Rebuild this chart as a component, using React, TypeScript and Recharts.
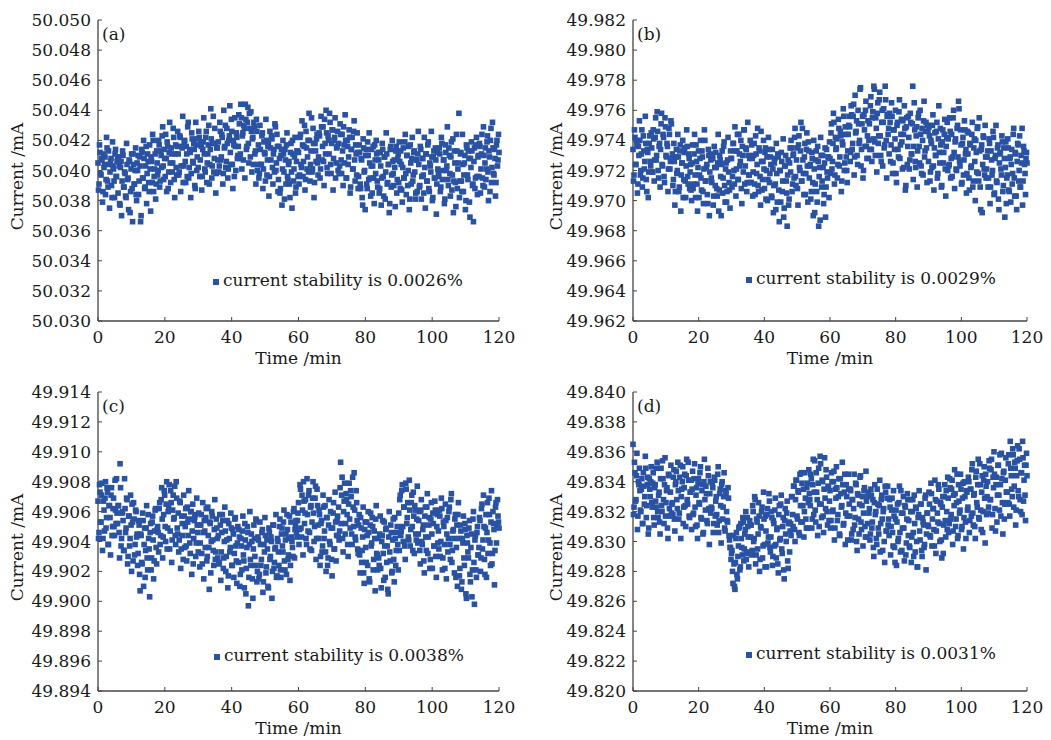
import {
  ScatterChart, Scatter, XAxis, YAxis, Legend,
} from 'recharts'

const FONT = '"DejaVu Serif", "Liberation Serif", serif'
const BLUE = '#2a52a3'
const INK = '#1a1a1a'
const AXIS = '#444'
const MARK = 5.6

// readings every 0.3 min; the *Mid arrays are the readings taken half a step later
const SAMPLE_STEP = 0.3

const timeTicks = [0, 20, 40, 60, 80, 100, 120]

const ticksA = [50.03, 50.032, 50.034, 50.036, 50.038, 50.04, 50.042, 50.044, 50.046, 50.048, 50.05]
const ticksB = [49.962, 49.964, 49.966, 49.968, 49.97, 49.972, 49.974, 49.976, 49.978, 49.98, 49.982]
const ticksC = [49.894, 49.896, 49.898, 49.9, 49.902, 49.904, 49.906, 49.908, 49.91, 49.912, 49.914]
const ticksD = [49.82, 49.822, 49.824, 49.826, 49.828, 49.83, 49.832, 49.834, 49.836, 49.838, 49.84]

const currentA = [
  50.0405, 50.0391, 50.0412, 50.0397, 50.0407, 50.0386, 50.0402, 50.0409, 50.0394, 50.0415, 50.0389, 50.0404, 50.0399, 50.0408, 50.0382, 50.0403, 50.0393, 50.0411, 50.0396, 50.0406,
  50.0385, 50.0403, 50.0377, 50.0406, 50.0393, 50.0410, 50.0389, 50.0398, 50.0382, 50.0404, 50.0395, 50.0407, 50.0372, 50.0401, 50.0388, 50.0411, 50.0391, 50.0400, 50.0384, 50.0405,
  50.0410, 50.0393, 50.0403, 50.0370, 50.0412, 50.0395, 50.0408, 50.0389, 50.0416, 50.0398, 50.0406, 50.0386, 50.0401, 50.0409, 50.0392, 50.0420, 50.0396, 50.0411, 50.0391, 50.0405,
  50.0400, 50.0417, 50.0393, 50.0410, 50.0423, 50.0403, 50.0414, 50.0396, 50.0408, 50.0419, 50.0388, 50.0412, 50.0405, 50.0415, 50.0399, 50.0428, 50.0394, 50.0411, 50.0402, 50.0416,
  50.0411, 50.0399, 50.0422, 50.0403, 50.0415, 50.0392, 50.0419, 50.0406, 50.0416, 50.0396, 50.0432, 50.0402, 50.0412, 50.0398, 50.0421, 50.0405, 50.0414, 50.0388, 50.0417, 50.0409,
  50.0402, 50.0422, 50.0407, 50.0416, 50.0396, 50.0419, 50.0411, 50.0399, 50.0426, 50.0405, 50.0417, 50.0391, 50.0414, 50.0421, 50.0403, 50.0436, 50.0408, 50.0418, 50.0398, 50.0415,
  50.0419, 50.0403, 50.0426, 50.0409, 50.0422, 50.0398, 50.0415, 50.0430, 50.0406, 50.0418, 50.0401, 50.0423, 50.0412, 50.0434, 50.0404, 50.0420, 50.0396, 50.0416, 50.0425, 50.0408,
  50.0416, 50.0431, 50.0411, 50.0435, 50.0423, 50.0407, 50.0428, 50.0444, 50.0414, 50.0432, 50.0418, 50.0438, 50.0409, 50.0426, 50.0421, 50.0404, 50.0429, 50.0413, 50.0434, 50.0400,
  50.0417, 50.0398, 50.0414, 50.0404, 50.0425, 50.0401, 50.0412, 50.0393, 50.0420, 50.0407, 50.0418, 50.0396, 50.0415, 50.0423, 50.0402, 50.0411, 50.0399, 50.0429, 50.0405, 50.0416,
  50.0394, 50.0408, 50.0388, 50.0414, 50.0401, 50.0411, 50.0381, 50.0407, 50.0417, 50.0396, 50.0404, 50.0391, 50.0412, 50.0399, 50.0420, 50.0393, 50.0409, 50.0385, 50.0406, 50.0413,
  50.0412, 50.0397, 50.0424, 50.0402, 50.0417, 50.0406, 50.0430, 50.0394, 50.0415, 50.0409, 50.0399, 50.0420, 50.0404, 50.0435, 50.0401, 50.0418, 50.0392, 50.0413, 50.0421, 50.0405,
  50.0409, 50.0423, 50.0401, 50.0429, 50.0416, 50.0406, 50.0434, 50.0411, 50.0425, 50.0398, 50.0420, 50.0438, 50.0404, 50.0418, 50.0427, 50.0408, 50.0422, 50.0395, 50.0415, 50.0426,
  50.0418, 50.0403, 50.0424, 50.0398, 50.0413, 50.0429, 50.0405, 50.0420, 50.0395, 50.0416, 50.0409, 50.0422, 50.0389, 50.0414, 50.0401, 50.0426, 50.0407, 50.0417, 50.0397, 50.0412,
  50.0396, 50.0412, 50.0388, 50.0407, 50.0377, 50.0415, 50.0400, 50.0410, 50.0391, 50.0419, 50.0394, 50.0405, 50.0383, 50.0414, 50.0403, 50.0395, 50.0417, 50.0398, 50.0411, 50.0389,
  50.0407, 50.0388, 50.0403, 50.0395, 50.0414, 50.0383, 50.0409, 50.0399, 50.0411, 50.0392, 50.0404, 50.0378, 50.0416, 50.0397, 50.0406, 50.0390, 50.0402, 50.0413, 50.0385, 50.0408,
  50.0392, 50.0406, 50.0413, 50.0387, 50.0402, 50.0395, 50.0419, 50.0398, 50.0410, 50.0390, 50.0416, 50.0381, 50.0405, 50.0408, 50.0393, 50.0412, 50.0399, 50.0385, 50.0407, 50.0411,
  50.0404, 50.0390, 50.0414, 50.0396, 50.0408, 50.0385, 50.0402, 50.0411, 50.0393, 50.0417, 50.0388, 50.0405, 50.0399, 50.0409, 50.0382, 50.0413, 50.0395, 50.0407, 50.0391, 50.0401,
  50.0396, 50.0411, 50.0389, 50.0418, 50.0400, 50.0407, 50.0381, 50.0412, 50.0403, 50.0394, 50.0415, 50.0398, 50.0409, 50.0387, 50.0421, 50.0393, 50.0405, 50.0376, 50.0413, 50.0401,
  50.0438, 50.0393, 50.0412, 50.0386, 50.0404, 50.0397, 50.0410, 50.0380, 50.0415, 50.0394, 50.0408, 50.0369, 50.0402, 50.0413, 50.0391, 50.0406, 50.0388, 50.0417, 50.0396, 50.0409,
  50.0396, 50.0416, 50.0401, 50.0424, 50.0390, 50.0410, 50.0405, 50.0394, 50.0419, 50.0399, 50.0413, 50.0386, 50.0428, 50.0402, 50.0415, 50.0397, 50.0408, 50.0392, 50.0420, 50.0407,
  50.0412,
]

const currentAMid = [
  50.0387, 50.0417, 50.0398, 50.0408, 50.0379, 50.0411, 50.0404, 50.0384, 50.0422, 50.0393, 50.0413, 50.0375, 50.0406, 50.0390, 50.0419, 50.0401, 50.0382, 50.0414, 50.0396, 50.0409,
  50.0409, 50.0378, 50.0402, 50.0370, 50.0413, 50.0389, 50.0399, 50.0383, 50.0418, 50.0394, 50.0374, 50.0406, 50.0386, 50.0411, 50.0366, 50.0404, 50.0391, 50.0415, 50.0380, 50.0400,
  50.0384, 50.0409, 50.0366, 50.0414, 50.0395, 50.0420, 50.0388, 50.0403, 50.0378, 50.0411, 50.0392, 50.0417, 50.0373, 50.0406, 50.0424, 50.0386, 50.0401, 50.0381, 50.0413, 50.0397,
  50.0420, 50.0389, 50.0413, 50.0402, 50.0429, 50.0394, 50.0408, 50.0424, 50.0386, 50.0416, 50.0399, 50.0432, 50.0392, 50.0411, 50.0405, 50.0422, 50.0382, 50.0417, 50.0397, 50.0426,
  50.0397, 50.0423, 50.0386, 50.0416, 50.0436, 50.0403, 50.0420, 50.0392, 50.0411, 50.0429, 50.0395, 50.0414, 50.0382, 50.0425, 50.0406, 50.0418, 50.0390, 50.0432, 50.0400, 50.0421,
  50.0426, 50.0396, 50.0419, 50.0387, 50.0414, 50.0435, 50.0401, 50.0422, 50.0392, 50.0411, 50.0430, 50.0404, 50.0441, 50.0395, 50.0418, 50.0399, 50.0428, 50.0385, 50.0415, 50.0407,
  50.0399, 50.0432, 50.0407, 50.0424, 50.0391, 50.0440, 50.0416, 50.0402, 50.0428, 50.0395, 50.0420, 50.0443, 50.0404, 50.0426, 50.0388, 50.0417, 50.0435, 50.0400, 50.0422, 50.0410,
  50.0437, 50.0408, 50.0444, 50.0401, 50.0425, 50.0430, 50.0395, 50.0434, 50.0416, 50.0442, 50.0405, 50.0428, 50.0439, 50.0399, 50.0422, 50.0432, 50.0411, 50.0391, 50.0426, 50.0404,
  50.0395, 50.0430, 50.0404, 50.0423, 50.0388, 50.0419, 50.0411, 50.0434, 50.0397, 50.0416, 50.0383, 50.0426, 50.0407, 50.0421, 50.0391, 50.0414, 50.0431, 50.0400, 50.0424, 50.0386,
  50.0416, 50.0385, 50.0410, 50.0377, 50.0420, 50.0399, 50.0414, 50.0391, 50.0425, 50.0394, 50.0406, 50.0382, 50.0418, 50.0375, 50.0411, 50.0401, 50.0422, 50.0389, 50.0413, 50.0396,
  50.0391, 50.0422, 50.0404, 50.0433, 50.0396, 50.0416, 50.0387, 50.0426, 50.0401, 50.0420, 50.0438, 50.0393, 50.0413, 50.0399, 50.0428, 50.0382, 50.0418, 50.0406, 50.0424, 50.0397,
  50.0425, 50.0395, 50.0436, 50.0407, 50.0429, 50.0390, 50.0418, 50.0440, 50.0402, 50.0423, 50.0411, 50.0432, 50.0398, 50.0427, 50.0387, 50.0420, 50.0435, 50.0405, 50.0416, 50.0400,
  50.0398, 50.0431, 50.0407, 50.0424, 50.0390, 50.0417, 50.0437, 50.0395, 50.0420, 50.0404, 50.0427, 50.0385, 50.0414, 50.0422, 50.0401, 50.0433, 50.0393, 50.0411, 50.0425, 50.0388,
  50.0417, 50.0391, 50.0408, 50.0382, 50.0421, 50.0399, 50.0374, 50.0414, 50.0388, 50.0410, 50.0425, 50.0395, 50.0403, 50.0385, 50.0416, 50.0378, 50.0407, 50.0420, 50.0393, 50.0412,
  50.0385, 50.0412, 50.0377, 50.0418, 50.0396, 50.0409, 50.0381, 50.0425, 50.0391, 50.0404, 50.0372, 50.0414, 50.0389, 50.0420, 50.0398, 50.0407, 50.0376, 50.0416, 50.0394, 50.0411,
  50.0419, 50.0388, 50.0404, 50.0379, 50.0415, 50.0395, 50.0424, 50.0384, 50.0410, 50.0400, 50.0374, 50.0417, 50.0391, 50.0422, 50.0397, 50.0413, 50.0381, 50.0407, 50.0386, 50.0426,
  50.0389, 50.0416, 50.0381, 50.0408, 50.0397, 50.0422, 50.0375, 50.0411, 50.0393, 50.0419, 50.0386, 50.0403, 50.0426, 50.0380, 50.0409, 50.0395, 50.0415, 50.0371, 50.0412, 50.0399,
  50.0415, 50.0386, 50.0422, 50.0394, 50.0407, 50.0378, 50.0417, 50.0400, 50.0429, 50.0390, 50.0410, 50.0383, 50.0419, 50.0397, 50.0372, 50.0413, 50.0392, 50.0424, 50.0388, 50.0405,
  50.0382, 50.0411, 50.0393, 50.0424, 50.0386, 50.0405, 50.0374, 50.0417, 50.0397, 50.0413, 50.0379, 50.0408, 50.0419, 50.0390, 50.0366, 50.0415, 50.0395, 50.0422, 50.0384, 50.0410,
  50.0418, 50.0385, 50.0411, 50.0395, 50.0429, 50.0389, 50.0415, 50.0401, 50.0423, 50.0380, 50.0409, 50.0420, 50.0392, 50.0432, 50.0398, 50.0414, 50.0383, 50.0417, 50.0403, 50.0424,
]

const currentB = [
  49.9734, 49.9717, 49.9742, 49.9724, 49.9737, 49.9711, 49.9730, 49.9740, 49.9720, 49.9747, 49.9715, 49.9733, 49.9726, 49.9738, 49.9706, 49.9732, 49.9719, 49.9743, 49.9723, 49.9735,
  49.9719, 49.9741, 49.9727, 49.9755, 49.9730, 49.9746, 49.9715, 49.9738, 49.9734, 49.9758, 49.9723, 49.9742, 49.9712, 49.9749, 49.9729, 49.9736, 49.9721, 49.9744, 49.9726, 49.9751,
  49.9731, 49.9714, 49.9726, 49.9706, 49.9734, 49.9720, 49.9729, 49.9709, 49.9737, 49.9717, 49.9725, 49.9702, 49.9732, 49.9713, 49.9723, 49.9736, 49.9711, 49.9728, 49.9719, 49.9707,
  49.9725, 49.9708, 49.9731, 49.9717, 49.9737, 49.9711, 49.9722, 49.9702, 49.9728, 49.9715, 49.9733, 49.9706, 49.9721, 49.9740, 49.9713, 49.9724, 49.9698, 49.9730, 49.9719, 49.9727,
  49.9712, 49.9728, 49.9703, 49.9722, 49.9732, 49.9708, 49.9725, 49.9693, 49.9730, 49.9716, 49.9724, 49.9705, 49.9736, 49.9710, 49.9721, 49.9699, 49.9727, 49.9719, 49.9707, 49.9733,
  49.9728, 49.9716, 49.9738, 49.9711, 49.9733, 49.9721, 49.9744, 49.9714, 49.9731, 49.9726, 49.9708, 49.9736, 49.9719, 49.9747, 49.9723, 49.9734, 49.9712, 49.9730, 49.9717, 49.9740,
  49.9712, 49.9728, 49.9719, 49.9738, 49.9704, 49.9731, 49.9724, 49.9710, 49.9735, 49.9716, 49.9746, 49.9707, 49.9726, 49.9721, 49.9732, 49.9701, 49.9729, 49.9714, 49.9734, 49.9718,
  49.9724, 49.9702, 49.9721, 49.9710, 49.9728, 49.9694, 49.9718, 49.9731, 49.9707, 49.9720, 49.9699, 49.9726, 49.9713, 49.9689, 49.9723, 49.9730, 49.9705, 49.9717, 49.9697, 49.9725,
  49.9719, 49.9735, 49.9711, 49.9731, 49.9742, 49.9716, 49.9727, 49.9708, 49.9737, 49.9722, 49.9733, 49.9713, 49.9748, 49.9718, 49.9729, 49.9704, 49.9734, 49.9723, 49.9739, 49.9715,
  49.9724, 49.9706, 49.9728, 49.9690, 49.9721, 49.9711, 49.9733, 49.9699, 49.9726, 49.9716, 49.9687, 49.9730, 49.9713, 49.9722, 49.9704, 49.9735, 49.9709, 49.9719, 49.9729, 49.9702,
  49.9728, 49.9745, 49.9721, 49.9738, 49.9752, 49.9717, 49.9734, 49.9741, 49.9724, 49.9748, 49.9729, 49.9743, 49.9713, 49.9737, 49.9756, 49.9725, 49.9744, 49.9720, 49.9733, 49.9750,
  49.9749, 49.9732, 49.9757, 49.9738, 49.9764, 49.9729, 49.9745, 49.9753, 49.9724, 49.9751, 49.9740, 49.9775, 49.9734, 49.9756, 49.9720, 49.9747, 49.9760, 49.9736, 49.9743, 49.9728,
  49.9751, 49.9763, 49.9734, 49.9755, 49.9741, 49.9774, 49.9730, 49.9748, 49.9758, 49.9738, 49.9767, 49.9743, 49.9726, 49.9760, 49.9752, 49.9735, 49.9776, 49.9740, 49.9756, 49.9744,
  49.9731, 49.9752, 49.9737, 49.9756, 49.9725, 49.9747, 49.9741, 49.9718, 49.9750, 49.9734, 49.9759, 49.9728, 49.9744, 49.9739, 49.9753, 49.9722, 49.9748, 49.9710, 49.9755, 49.9736,
  49.9742, 49.9727, 49.9752, 49.9731, 49.9776, 49.9736, 49.9747, 49.9722, 49.9749, 49.9733, 49.9758, 49.9725, 49.9744, 49.9718, 49.9740, 49.9753, 49.9729, 49.9746, 49.9735, 49.9750,
  49.9726, 49.9743, 49.9719, 49.9738, 49.9750, 49.9723, 49.9735, 49.9730, 49.9746, 49.9715, 49.9741, 49.9732, 49.9748, 49.9709, 49.9739, 49.9725, 49.9744, 49.9721, 49.9736, 49.9752,
  49.9741, 49.9724, 49.9746, 49.9728, 49.9716, 49.9755, 49.9732, 49.9739, 49.9721, 49.9748, 49.9729, 49.9761, 49.9723, 49.9737, 49.9712, 49.9742, 49.9727, 49.9747, 49.9734, 49.9718,
  49.9731, 49.9715, 49.9738, 49.9722, 49.9744, 49.9709, 49.9735, 49.9726, 49.9740, 49.9719, 49.9749, 49.9713, 49.9733, 49.9694, 49.9737, 49.9724, 49.9742, 49.9717, 49.9729, 49.9721,
  49.9733, 49.9715, 49.9738, 49.9709, 49.9727, 49.9720, 49.9742, 49.9705, 49.9730, 49.9713, 49.9735, 49.9701, 49.9725, 49.9732, 49.9717, 49.9739, 49.9710, 49.9728, 49.9722, 49.9698,
  49.9717, 49.9735, 49.9706, 49.9729, 49.9724, 49.9711, 49.9744, 49.9715, 49.9732, 49.9703, 49.9726, 49.9737, 49.9720, 49.9709, 49.9730, 49.9748, 49.9713, 49.9733, 49.9718, 49.9728,
  49.9725,
]

const currentBMid = [
  49.9713, 49.9747, 49.9724, 49.9740, 49.9705, 49.9736, 49.9753, 49.9717, 49.9731, 49.9709, 49.9743, 49.9721, 49.9756, 49.9714, 49.9734, 49.9702, 49.9738, 49.9726, 49.9745, 49.9719,
  49.9747, 49.9713, 49.9742, 49.9727, 49.9759, 49.9720, 49.9736, 49.9709, 49.9751, 49.9724, 49.9744, 49.9716, 49.9755, 49.9730, 49.9738, 49.9706, 49.9748, 49.9721, 49.9753, 49.9728,
  49.9710, 49.9738, 49.9697, 49.9729, 49.9718, 49.9744, 49.9706, 49.9733, 49.9693, 49.9725, 49.9740, 49.9714, 49.9735, 49.9702, 49.9747, 49.9716, 49.9731, 49.9708, 49.9724, 49.9700,
  49.9737, 49.9711, 49.9744, 49.9702, 49.9726, 49.9693, 49.9733, 49.9717, 49.9740, 49.9707, 49.9729, 49.9698, 49.9747, 49.9713, 49.9722, 49.9704, 49.9734, 49.9690, 49.9731, 49.9715,
  49.9730, 49.9697, 49.9736, 49.9710, 49.9722, 49.9703, 49.9744, 49.9707, 49.9727, 49.9690, 49.9733, 49.9715, 49.9739, 49.9699, 49.9725, 49.9706, 49.9742, 49.9712, 49.9695, 49.9728,
  49.9709, 49.9738, 49.9720, 49.9749, 49.9703, 49.9733, 49.9714, 49.9744, 49.9723, 49.9740, 49.9698, 49.9730, 49.9747, 49.9711, 49.9735, 49.9706, 49.9752, 49.9717, 49.9728, 49.9712,
  49.9737, 49.9703, 49.9730, 49.9711, 49.9743, 49.9718, 49.9748, 49.9706, 49.9733, 49.9697, 49.9726, 49.9714, 49.9740, 49.9708, 49.9735, 49.9720, 49.9700, 49.9742, 49.9712, 49.9729,
  49.9703, 49.9734, 49.9692, 49.9725, 49.9711, 49.9738, 49.9699, 49.9729, 49.9686, 49.9720, 49.9732, 49.9706, 49.9741, 49.9695, 49.9723, 49.9713, 49.9683, 49.9727, 49.9701, 49.9735,
  49.9740, 49.9706, 49.9730, 49.9715, 49.9748, 49.9710, 49.9735, 49.9697, 49.9743, 49.9720, 49.9752, 49.9713, 49.9727, 49.9704, 49.9738, 49.9718, 49.9745, 49.9699, 49.9733, 49.9723,
  49.9701, 49.9732, 49.9712, 49.9740, 49.9692, 49.9727, 49.9706, 49.9736, 49.9683, 49.9722, 49.9742, 49.9709, 49.9730, 49.9698, 49.9725, 49.9689, 49.9734, 49.9715, 49.9729, 49.9739,
  49.9718, 49.9751, 49.9726, 49.9758, 49.9711, 49.9742, 49.9735, 49.9715, 49.9754, 49.9723, 49.9746, 49.9706, 49.9739, 49.9761, 49.9720, 49.9749, 49.9729, 49.9712, 49.9744, 49.9756,
  49.9726, 49.9763, 49.9734, 49.9756, 49.9717, 49.9770, 49.9746, 49.9730, 49.9760, 49.9738, 49.9774, 49.9723, 49.9751, 49.9715, 49.9757, 49.9736, 49.9766, 49.9728, 49.9753, 49.9740,
  49.9734, 49.9769, 49.9726, 49.9759, 49.9776, 49.9739, 49.9755, 49.9719, 49.9765, 49.9743, 49.9772, 49.9730, 49.9752, 49.9723, 49.9761, 49.9737, 49.9767, 49.9715, 49.9757, 49.9748,
  49.9758, 49.9726, 49.9765, 49.9718, 49.9747, 49.9734, 49.9760, 49.9712, 49.9752, 49.9729, 49.9767, 49.9737, 49.9754, 49.9721, 49.9744, 49.9763, 49.9707, 49.9749, 49.9724, 49.9756,
  49.9721, 49.9758, 49.9731, 49.9751, 49.9714, 49.9765, 49.9726, 49.9743, 49.9709, 49.9755, 49.9736, 49.9760, 49.9723, 49.9748, 49.9717, 49.9766, 49.9733, 49.9752, 49.9712, 49.9746,
  49.9749, 49.9713, 49.9740, 49.9722, 49.9757, 49.9707, 49.9745, 49.9730, 49.9752, 49.9718, 49.9763, 49.9725, 49.9737, 49.9710, 49.9747, 49.9732, 49.9754, 49.9703, 49.9742, 49.9720,
  49.9723, 49.9755, 49.9715, 49.9744, 49.9729, 49.9760, 49.9708, 49.9741, 49.9720, 49.9750, 49.9766, 49.9726, 49.9747, 49.9711, 49.9738, 49.9717, 49.9753, 49.9731, 49.9705, 49.9746,
  49.9745, 49.9707, 49.9737, 49.9723, 49.9752, 49.9713, 49.9741, 49.9700, 49.9732, 49.9748, 49.9718, 49.9755, 49.9709, 49.9734, 49.9692, 49.9743, 49.9721, 49.9750, 49.9715, 49.9729,
  49.9709, 49.9741, 49.9698, 49.9733, 49.9717, 49.9746, 49.9704, 49.9728, 49.9750, 49.9712, 49.9737, 49.9694, 49.9731, 49.9721, 49.9743, 49.9706, 49.9735, 49.9689, 49.9739, 49.9715,
  49.9741, 49.9707, 49.9728, 49.9699, 49.9734, 49.9718, 49.9748, 49.9703, 49.9731, 49.9694, 49.9738, 49.9713, 49.9743, 49.9709, 49.9725, 49.9697, 49.9736, 49.9724, 49.9704, 49.9732,
]

const currentC = [
  49.9067, 49.9046, 49.9073, 49.9053, 49.9079, 49.9042, 49.9061, 49.9069, 49.9049, 49.9076, 49.9038, 49.9064, 49.9056, 49.9071, 49.9044, 49.9062, 49.9050, 49.9081, 49.9052, 49.9059,
  49.9064, 49.9046, 49.9092, 49.9037, 49.9059, 49.9054, 49.9034, 49.9062, 49.9049, 49.9068, 49.9030, 49.9057, 49.9042, 49.9051, 49.9065, 49.9027, 49.9055, 49.9038, 49.9060, 49.9045,
  49.9032, 49.9051, 49.9007, 49.9044, 49.9025, 49.9054, 49.9038, 49.9016, 49.9049, 49.9029, 49.9058, 49.9035, 49.9046, 49.9021, 49.9053, 49.9041, 49.9027, 49.9061, 49.9036, 49.9048,
  49.9046, 49.9062, 49.9038, 49.9068, 49.9055, 49.9043, 49.9074, 49.9050, 49.9065, 49.9035, 49.9060, 49.9078, 49.9047, 49.9066, 49.9041, 49.9071, 49.9056, 49.9044, 49.9080, 49.9049,
  49.9059, 49.9041, 49.9066, 49.9035, 49.9052, 49.9028, 49.9057, 49.9050, 49.9037, 49.9063, 49.9044, 49.9055, 49.9032, 49.9060, 49.9047, 49.9025, 49.9054, 49.9058, 49.9039, 49.9051,
  49.9033, 49.9051, 49.9039, 49.9058, 49.9025, 49.9046, 49.9054, 49.9036, 49.9062, 49.9030, 49.9044, 49.9008, 49.9052, 49.9040, 49.9057, 49.9034, 49.9048, 49.9028, 49.9055, 49.9042,
  49.9044, 49.9026, 49.9051, 49.9033, 49.9058, 49.9022, 49.9040, 49.9047, 49.9030, 49.9054, 49.9017, 49.9042, 49.9036, 49.9049, 49.9024, 49.9045, 49.9032, 49.9056, 49.9027, 49.9039,
  49.9026, 49.9043, 49.9018, 49.9037, 49.9047, 49.9031, 49.9009, 49.9041, 49.9022, 49.9050, 49.8997, 49.9038, 49.9028, 49.9045, 49.9015, 49.9035, 49.9042, 49.9024, 49.9054, 49.9020,
  49.9041, 49.9018, 49.9038, 49.9028, 49.9048, 49.9013, 49.9033, 49.9044, 49.9023, 49.9035, 49.9009, 49.9046, 49.9030, 49.9040, 49.9020, 49.9051, 49.9026, 49.9036, 49.9016, 49.9042,
  49.9033, 49.9050, 49.9021, 49.9045, 49.9037, 49.9053, 49.9027, 49.9041, 49.9018, 49.9048, 49.9031, 49.9057, 49.9024, 49.9043, 49.9036, 49.9060, 49.9029, 49.9051, 49.9046, 49.9054,
  49.9066, 49.9048, 49.9075, 49.9043, 49.9061, 49.9080, 49.9052, 49.9068, 49.9038, 49.9058, 49.9071, 49.9046, 49.9063, 49.9034, 49.9069, 49.9059, 49.9050, 49.9077, 49.9042, 49.9064,
  49.9042, 49.9058, 49.9030, 49.9054, 49.9037, 49.9063, 49.9047, 49.9033, 49.9056, 49.9024, 49.9051, 49.9040, 49.9060, 49.9028, 49.9049, 49.9066, 49.9035, 49.9053, 49.9044, 49.9057,
  49.9063, 49.9047, 49.9093, 49.9071, 49.9042, 49.9060, 49.9079, 49.9052, 49.9068, 49.9038, 49.9065, 49.9055, 49.9074, 49.9045, 49.9083, 49.9050, 49.9061, 49.9041, 49.9066, 49.9035,
  49.9051, 49.9031, 49.9056, 49.9026, 49.9043, 49.9019, 49.9048, 49.9036, 49.9053, 49.9024, 49.9046, 49.9013, 49.9059, 49.9039, 49.9050, 49.9028, 49.9042, 49.9055, 49.9032, 49.9021,
  49.9029, 49.9045, 49.9022, 49.9040, 49.9054, 49.9014, 49.9037, 49.9048, 49.9026, 49.9008, 49.9043, 49.9033, 49.9051, 49.9019, 49.9041, 49.9028, 49.9056, 49.9024, 49.9046, 49.9038,
  49.9059, 49.9068, 49.9044, 49.9074, 49.9050, 49.9063, 49.9037, 49.9079, 49.9052, 49.9066, 49.9041, 49.9061, 49.9048, 49.9071, 49.9034, 49.9057, 49.9064, 49.9045, 49.9055, 49.9039,
  49.9054, 49.9034, 49.9061, 49.9040, 49.9048, 49.9027, 49.9057, 49.9043, 49.9063, 49.9032, 49.9051, 49.9022, 49.9055, 49.9045, 49.9059, 49.9037, 49.9067, 49.9030, 49.9050, 49.9039,
  49.9035, 49.9057, 49.9040, 49.9062, 49.9029, 49.9050, 49.9022, 49.9054, 49.9045, 49.9033, 49.9060, 49.9038, 49.9068, 49.9026, 49.9047, 49.9042, 49.9055, 49.9016, 49.9051, 49.9058,
  49.9042, 49.9022, 49.9047, 49.9013, 49.9039, 49.9029, 49.9052, 49.9005, 49.9044, 49.9033, 49.9049, 49.9018, 49.9036, 49.9003, 49.9055, 49.9026, 49.9041, 49.9021, 49.9046, 49.9031,
  49.9036, 49.9054, 49.9029, 49.9065, 49.9041, 49.9050, 49.9018, 49.9058, 49.9046, 49.9032, 49.9069, 49.9039, 49.9053, 49.9025, 49.9060, 49.9048, 49.9034, 49.9066, 49.9051, 49.9057,
  49.9049,
]

const currentCMid = [
  49.9042, 49.9078, 49.9053, 49.9071, 49.9034, 49.9067, 49.9047, 49.9080, 49.9056, 49.9073, 49.9038, 49.9064, 49.9031, 49.9076, 49.9050, 49.9069, 49.9044, 49.9061, 49.9082, 49.9052,
  49.9064, 49.9029, 49.9076, 49.9042, 49.9060, 49.9034, 49.9082, 49.9046, 49.9069, 49.9025, 49.9057, 49.9037, 49.9071, 49.9020, 49.9053, 49.9066, 49.9031, 49.9061, 49.9043, 49.9024,
  49.9054, 49.9018, 49.9045, 49.9026, 49.9059, 49.9010, 49.9049, 49.9034, 49.9064, 49.9021, 49.9042, 49.9003, 49.9052, 49.9029, 49.9057, 49.9015, 49.9047, 49.9062, 49.9025, 49.9050,
  49.9033, 49.9066, 49.9044, 49.9076, 49.9029, 49.9058, 49.9071, 49.9040, 49.9080, 49.9049, 49.9063, 49.9035, 49.9074, 49.9026, 49.9061, 49.9055, 49.9077, 49.9038, 49.9069, 49.9045,
  49.9033, 49.9067, 49.9022, 49.9057, 49.9044, 49.9071, 49.9036, 49.9062, 49.9027, 49.9053, 49.9074, 49.9039, 49.9060, 49.9018, 49.9065, 49.9042, 49.9056, 49.9030, 49.9069, 49.9046,
  49.9059, 49.9023, 49.9051, 49.9032, 49.9066, 49.9015, 49.9047, 49.9056, 49.9027, 49.9063, 49.9036, 49.9053, 49.9019, 49.9060, 49.9041, 49.9024, 49.9068, 49.9033, 49.9049, 49.9029,
  49.9025, 49.9058, 49.9014, 49.9046, 49.9054, 49.9029, 49.9063, 49.9020, 49.9041, 49.9009, 49.9052, 49.9033, 49.9059, 49.9024, 49.9048, 49.9016, 49.9055, 49.9037, 49.9012, 49.9050,
  49.9048, 49.9010, 49.9042, 49.9021, 49.9057, 49.9027, 49.9052, 49.9005, 49.9036, 49.9046, 49.9016, 49.9060, 49.9024, 49.9040, 49.9002, 49.9051, 49.9030, 49.9055, 49.9013, 49.9043,
  49.9015, 49.9053, 49.9024, 49.9046, 49.9006, 49.9038, 49.9056, 49.9019, 49.9041, 49.9010, 49.9049, 49.9028, 49.9043, 49.9002, 49.9051, 49.9022, 49.9035, 49.9058, 49.9017, 49.9040,
  49.9024, 49.9055, 49.9016, 49.9049, 49.9033, 49.9061, 49.9021, 49.9045, 49.9058, 49.9028, 49.9042, 49.9014, 49.9053, 49.9040, 49.9030, 49.9062, 49.9048, 49.9054, 49.9043, 49.9059,
  49.9038, 49.9078, 49.9049, 49.9071, 49.9031, 49.9067, 49.9059, 49.9042, 49.9082, 49.9047, 49.9074, 49.9035, 49.9064, 49.9053, 49.9080, 49.9040, 49.9069, 49.9028, 49.9075, 49.9051,
  49.9061, 49.9024, 49.9052, 49.9033, 49.9071, 49.9042, 49.9064, 49.9020, 49.9056, 49.9029, 49.9068, 49.9038, 49.9049, 49.9017, 49.9059, 49.9035, 49.9073, 49.9027, 49.9054, 49.9044,
  49.9041, 49.9076, 49.9052, 49.9083, 49.9033, 49.9067, 49.9045, 49.9072, 49.9058, 49.9030, 49.9079, 49.9049, 49.9070, 49.9038, 49.9063, 49.9086, 49.9043, 49.9074, 49.9054, 49.9032,
  49.9058, 49.9019, 49.9049, 49.9034, 49.9063, 49.9012, 49.9053, 49.9026, 49.9044, 49.9060, 49.9015, 49.9051, 49.9037, 49.9056, 49.9021, 49.9047, 49.9007, 49.9064, 49.9031, 49.9042,
  49.9024, 49.9057, 49.9009, 49.9044, 49.9032, 49.9053, 49.9016, 49.9049, 49.9037, 49.9005, 49.9060, 49.9027, 49.9046, 49.9020, 49.9055, 49.9013, 49.9042, 49.9034, 49.9050, 49.9021,
  49.9034, 49.9071, 49.9047, 49.9078, 49.9040, 49.9063, 49.9028, 49.9075, 49.9056, 49.9043, 49.9081, 49.9037, 49.9066, 49.9050, 49.9073, 49.9032, 49.9061, 49.9041, 49.9077, 49.9045,
  49.9060, 49.9025, 49.9068, 49.9038, 49.9051, 49.9019, 49.9063, 49.9034, 49.9072, 49.9043, 49.9056, 49.9028, 49.9066, 49.9022, 49.9052, 49.9037, 49.9061, 49.9016, 49.9058, 49.9047,
  49.9061, 49.9030, 49.9069, 49.9021, 49.9053, 49.9038, 49.9065, 49.9015, 49.9056, 49.9042, 49.9063, 49.9028, 49.9072, 49.9034, 49.9048, 49.9019, 49.9058, 49.9036, 49.9010, 49.9066,
  49.9017, 49.9051, 49.9008, 49.9042, 49.9057, 49.9024, 49.9048, 49.9002, 49.9039, 49.9029, 49.9054, 49.9013, 49.9045, 49.9021, 49.9060, 49.8998, 49.9044, 49.9016, 49.9050, 49.9031,
  49.9056, 49.9020, 49.9062, 49.9035, 49.9071, 49.9028, 49.9049, 49.9016, 49.9066, 49.9041, 49.9058, 49.9024, 49.9074, 49.9032, 49.9052, 49.9011, 49.9063, 49.9039, 49.9068, 49.9053,
]

const currentD = [
  49.8365, 49.8323, 49.8346, 49.8328, 49.8359, 49.8317, 49.8338, 49.8334, 49.8320, 49.8342, 49.8312, 49.8337, 49.8330, 49.8349, 49.8324, 49.8343, 49.8309, 49.8335, 49.8340, 49.8326,
  49.8339, 49.8316, 49.8336, 49.8327, 49.8349, 49.8320, 49.8331, 49.8313, 49.8342, 49.8324, 49.8354, 49.8328, 49.8338, 49.8317, 49.8334, 49.8309, 49.8345, 49.8322, 49.8333, 49.8319,
  49.8326, 49.8343, 49.8315, 49.8338, 49.8347, 49.8322, 49.8334, 49.8319, 49.8351, 49.8330, 49.8340, 49.8312, 49.8336, 49.8324, 49.8344, 49.8328, 49.8353, 49.8317, 49.8333, 49.8341,
  49.8335, 49.8318, 49.8342, 49.8323, 49.8331, 49.8311, 49.8339, 49.8326, 49.8346, 49.8316, 49.8334, 49.8305, 49.8340, 49.8328, 49.8337, 49.8314, 49.8349, 49.8322, 49.8332, 49.8319,
  49.8322, 49.8336, 49.8312, 49.8341, 49.8327, 49.8318, 49.8345, 49.8306, 49.8332, 49.8324, 49.8338, 49.8315, 49.8330, 49.8309, 49.8334, 49.8320, 49.8313, 49.8329, 49.8301, 49.8296,
  49.8292, 49.8280, 49.8304, 49.8270, 49.8286, 49.8306, 49.8275, 49.8297, 49.8310, 49.8283, 49.8302, 49.8291, 49.8313, 49.8295, 49.8308, 49.8288, 49.8316, 49.8303, 49.8293, 49.8311,
  49.8311, 49.8294, 49.8320, 49.8302, 49.8328, 49.8291, 49.8313, 49.8305, 49.8317, 49.8288, 49.8309, 49.8323, 49.8297, 49.8315, 49.8283, 49.8307, 49.8318, 49.8299, 49.8332, 49.8296,
  49.8303, 49.8316, 49.8290, 49.8312, 49.8321, 49.8298, 49.8308, 49.8285, 49.8318, 49.8301, 49.8325, 49.8295, 49.8310, 49.8281, 49.8314, 49.8305, 49.8319, 49.8287, 49.8312, 49.8293,
  49.8312, 49.8330, 49.8318, 49.8337, 49.8308, 49.8328, 49.8341, 49.8315, 49.8333, 49.8304, 49.8324, 49.8346, 49.8313, 49.8335, 49.8320, 49.8329, 49.8309, 49.8339, 49.8326, 49.8332,
  49.8324, 49.8342, 49.8315, 49.8355, 49.8333, 49.8321, 49.8346, 49.8328, 49.8339, 49.8310, 49.8357, 49.8325, 49.8341, 49.8317, 49.8335, 49.8329, 49.8348, 49.8320, 49.8337, 49.8314,
  49.8334, 49.8314, 49.8340, 49.8321, 49.8347, 49.8309, 49.8329, 49.8336, 49.8318, 49.8342, 49.8304, 49.8332, 49.8324, 49.8338, 49.8312, 49.8345, 49.8319, 49.8330, 49.8301, 49.8335,
  49.8317, 49.8334, 49.8305, 49.8328, 49.8322, 49.8311, 49.8339, 49.8300, 49.8332, 49.8315, 49.8325, 49.8344, 49.8308, 49.8330, 49.8319, 49.8336, 49.8303, 49.8327, 49.8312, 49.8333,
  49.8322, 49.8305, 49.8331, 49.8313, 49.8296, 49.8326, 49.8318, 49.8302, 49.8335, 49.8309, 49.8324, 49.8293, 49.8328, 49.8315, 49.8320, 49.8300, 49.8337, 49.8307, 49.8329, 49.8311,
  49.8304, 49.8323, 49.8310, 49.8329, 49.8297, 49.8317, 49.8286, 49.8321, 49.8313, 49.8300, 49.8326, 49.8306, 49.8334, 49.8294, 49.8319, 49.8309, 49.8324, 49.8291, 49.8315, 49.8328,
  49.8314, 49.8296, 49.8320, 49.8303, 49.8328, 49.8290, 49.8312, 49.8323, 49.8300, 49.8283, 49.8318, 49.8307, 49.8325, 49.8294, 49.8316, 49.8311, 49.8298, 49.8331, 49.8305, 49.8319,
  49.8310, 49.8325, 49.8303, 49.8332, 49.8315, 49.8322, 49.8297, 49.8328, 49.8307, 49.8319, 49.8338, 49.8312, 49.8326, 49.8301, 49.8323, 49.8292, 49.8330, 49.8314, 49.8334, 49.8308,
  49.8329, 49.8312, 49.8336, 49.8318, 49.8341, 49.8307, 49.8324, 49.8332, 49.8315, 49.8345, 49.8304, 49.8327, 49.8321, 49.8335, 49.8310, 49.8339, 49.8316, 49.8330, 49.8302, 49.8333,
  49.8323, 49.8340, 49.8314, 49.8335, 49.8348, 49.8319, 49.8331, 49.8310, 49.8343, 49.8326, 49.8338, 49.8316, 49.8352, 49.8321, 49.8333, 49.8306, 49.8341, 49.8329, 49.8345, 49.8318,
  49.8340, 49.8323, 49.8349, 49.8328, 49.8355, 49.8318, 49.8336, 49.8345, 49.8307, 49.8343, 49.8331, 49.8351, 49.8321, 49.8338, 49.8359, 49.8326, 49.8346, 49.8315, 49.8341, 49.8333,
  49.8333, 49.8352, 49.8325, 49.8367, 49.8344, 49.8330, 49.8358, 49.8337, 49.8349, 49.8321, 49.8354, 49.8334, 49.8362, 49.8328, 49.8346, 49.8318, 49.8356, 49.8341, 49.8331, 49.8351,
  49.8344,
]

const currentDMid = [
  49.8318, 49.8353, 49.8327, 49.8344, 49.8308, 49.8340, 49.8349, 49.8321, 49.8335, 49.8312, 49.8346, 49.8325, 49.8357, 49.8316, 49.8338, 49.8305, 49.8342, 49.8330, 49.8350, 49.8323,
  49.8346, 49.8311, 49.8338, 49.8323, 49.8353, 49.8316, 49.8333, 49.8305, 49.8349, 49.8320, 49.8342, 49.8312, 49.8356, 49.8326, 49.8336, 49.8302, 49.8344, 49.8317, 49.8351, 49.8325,
  49.8318, 49.8348, 49.8307, 49.8340, 49.8328, 49.8353, 49.8315, 49.8343, 49.8302, 49.8335, 49.8350, 49.8323, 49.8345, 49.8310, 49.8355, 49.8325, 49.8341, 49.8316, 49.8333, 49.8308,
  49.8347, 49.8319, 49.8352, 49.8310, 49.8336, 49.8302, 49.8342, 49.8325, 49.8350, 49.8315, 49.8338, 49.8306, 49.8355, 49.8321, 49.8332, 49.8312, 49.8344, 49.8298, 49.8340, 49.8323,
  49.8339, 49.8306, 49.8343, 49.8317, 49.8330, 49.8311, 49.8350, 49.8314, 49.8335, 49.8299, 49.8340, 49.8323, 49.8346, 49.8307, 49.8332, 49.8314, 49.8336, 49.8304, 49.8296, 49.8288,
  49.8294, 49.8272, 49.8285, 49.8268, 49.8302, 49.8278, 49.8290, 49.8309, 49.8281, 49.8312, 49.8296, 49.8316, 49.8287, 49.8305, 49.8320, 49.8292, 49.8310, 49.8283, 49.8314, 49.8303,
  49.8291, 49.8324, 49.8300, 49.8330, 49.8285, 49.8315, 49.8295, 49.8326, 49.8280, 49.8310, 49.8320, 49.8289, 49.8333, 49.8298, 49.8317, 49.8283, 49.8322, 49.8303, 49.8327, 49.8293,
  49.8320, 49.8284, 49.8314, 49.8297, 49.8329, 49.8289, 49.8309, 49.8279, 49.8324, 49.8302, 49.8331, 49.8292, 49.8316, 49.8275, 49.8322, 49.8300, 49.8327, 49.8282, 49.8313, 49.8307,
  49.8304, 49.8330, 49.8310, 49.8337, 49.8300, 49.8341, 49.8317, 49.8334, 49.8306, 49.8345, 49.8313, 49.8339, 49.8324, 49.8303, 49.8346, 49.8315, 49.8336, 49.8309, 49.8348, 49.8328,
  49.8345, 49.8309, 49.8338, 49.8318, 49.8354, 49.8313, 49.8333, 49.8304, 49.8349, 49.8325, 49.8352, 49.8316, 49.8340, 49.8306, 49.8356, 49.8322, 49.8343, 49.8311, 49.8336, 49.8327,
  49.8309, 49.8346, 49.8320, 49.8340, 49.8301, 49.8335, 49.8350, 49.8314, 49.8330, 49.8305, 49.8342, 49.8323, 49.8353, 49.8311, 49.8333, 49.8298, 49.8338, 49.8317, 49.8345, 49.8325,
  49.8335, 49.8301, 49.8328, 49.8308, 49.8345, 49.8316, 49.8338, 49.8294, 49.8331, 49.8305, 49.8343, 49.8313, 49.8324, 49.8297, 49.8334, 49.8310, 49.8347, 49.8303, 49.8330, 49.8319,
  49.8301, 49.8335, 49.8309, 49.8328, 49.8290, 49.8338, 49.8320, 49.8298, 49.8325, 49.8305, 49.8341, 49.8312, 49.8331, 49.8294, 49.8322, 49.8286, 49.8333, 49.8307, 49.8337, 49.8315,
  49.8328, 49.8291, 49.8321, 49.8306, 49.8334, 49.8296, 49.8315, 49.8284, 49.8325, 49.8302, 49.8337, 49.8293, 49.8319, 49.8309, 49.8330, 49.8287, 49.8323, 49.8299, 49.8332, 49.8304,
  49.8297, 49.8328, 49.8286, 49.8320, 49.8306, 49.8331, 49.8293, 49.8322, 49.8283, 49.8316, 49.8334, 49.8301, 49.8325, 49.8290, 49.8313, 49.8296, 49.8329, 49.8281, 49.8319, 49.8311,
  49.8333, 49.8304, 49.8339, 49.8297, 49.8322, 49.8308, 49.8341, 49.8292, 49.8327, 49.8313, 49.8335, 49.8300, 49.8325, 49.8289, 49.8330, 49.8311, 49.8338, 49.8303, 49.8320, 49.8343,
  49.8306, 49.8342, 49.8315, 49.8335, 49.8298, 49.8331, 49.8348, 49.8310, 49.8326, 49.8302, 49.8338, 49.8319, 49.8345, 49.8308, 49.8329, 49.8295, 49.8340, 49.8313, 49.8334, 49.8321,
  49.8343, 49.8306, 49.8335, 49.8317, 49.8352, 49.8311, 49.8332, 49.8302, 49.8347, 49.8323, 49.8355, 49.8315, 49.8338, 49.8308, 49.8344, 49.8320, 49.8350, 49.8299, 49.8337, 49.8330,
  49.8319, 49.8354, 49.8328, 49.8348, 49.8309, 49.8343, 49.8360, 49.8322, 49.8338, 49.8313, 49.8351, 49.8331, 49.8358, 49.8317, 49.8342, 49.8305, 49.8347, 49.8325, 49.8356, 49.8333,
  49.8326, 49.8358, 49.8317, 49.8349, 49.8335, 49.8362, 49.8323, 49.8353, 49.8311, 49.8344, 49.8364, 49.8330, 49.8355, 49.8320, 49.8346, 49.8367, 49.8327, 49.8351, 49.8314, 49.8359,
]

const toPoints = (values: number[], start: number) =>
  values.map((v, i) => ({ t: Math.round((start + i * SAMPLE_STEP) * 100) / 100, v }))

const tickFont = { fill: INK, fontSize: 17, fontFamily: FONT }
const frameLine = { stroke: AXIS, strokeWidth: 1.3 }

// small filled square centred on the point the scatter computes
const SquareDot = (props: any) => (
  <rect x={props.cx - MARK / 2} y={props.cy - MARK / 2} width={MARK} height={MARK} fill={BLUE} />
)

const yTitle = (offsetX: number) => (props: any) => {
  const { x, y, height } = props.viewBox
  const cx = x + offsetX
  const cy = y + height / 2 + 6
  return (
    <text
      x={cx} y={cy} transform={`rotate(-90, ${cx}, ${cy})`}
      textAnchor="middle" dominantBaseline="central"
      fill={INK} fontSize={17} fontFamily={FONT}
    >
      Current /mA
    </text>
  )
}

interface PanelProps {
  left: number
  top: number
  width: number
  yAxisWidth: number
  marginTop: number
  marginRight: number
  values: number[]
  valuesMid: number[]
  yTicks: number[]
  tag: string
  stability: string
  legendLeft: number
  legendTop: number
  yLabelOffset: number
}

function Panel(p: PanelProps) {
  const domain = [p.yTicks[0], p.yTicks[p.yTicks.length - 1]]
  const points = [...toPoints(p.values, 0), ...toPoints(p.valuesMid, SAMPLE_STEP / 2)]
  return (
    <div style={{ position: 'absolute', left: p.left, top: p.top, width: p.width, height: 370 }}>
      <ScatterChart
        width={p.width}
        height={370}
        margin={{ top: p.marginTop, right: p.marginRight, bottom: 4, left: 0 }}
      >
        <XAxis
          type="number"
          dataKey="t"
          domain={[0, 120]}
          ticks={timeTicks}
          height={45}
          tickSize={-4}
          tickMargin={14}
          tick={tickFont}
          axisLine={frameLine}
          tickLine={{ stroke: AXIS }}
          label={{ value: 'Time /min', position: 'insideBottom', offset: 2, fill: INK, fontSize: 17, fontFamily: FONT }}
        />
        <XAxis xAxisId="top" orientation="top" type="number" domain={[0, 120]} height={0} tick={false} tickLine={false} axisLine={frameLine} />
        <YAxis
          type="number"
          dataKey="v"
          domain={domain}
          ticks={p.yTicks}
          allowDataOverflow
          width={p.yAxisWidth}
          tickSize={-4}
          tickMargin={11}
          tick={tickFont}
          tickFormatter={(v: number) => v.toFixed(3)}
          axisLine={frameLine}
          tickLine={{ stroke: AXIS }}
          label={yTitle(p.yLabelOffset)}
        />
        <YAxis yAxisId="right" orientation="right" type="number" domain={domain} width={0} tick={false} tickLine={false} axisLine={frameLine} />
        <Scatter
          name={`current stability is ${p.stability}`}
          data={points}
          fill={BLUE}
          shape={SquareDot}
          legendType="square"
          isAnimationActive={false}
        />
        <Legend
          layout="vertical"
          align="center"
          verticalAlign="middle"
          iconType="square"
          iconSize={6}
          wrapperStyle={{ left: p.legendLeft, top: p.legendTop, width: 'auto', fontFamily: FONT, fontSize: 17, lineHeight: '20px' }}
          formatter={(value: string) => <span style={{ color: INK }}>{value}</span>}
        />
      </ScatterChart>
      <div
        style={{
          position: 'absolute', left: p.yAxisWidth + 4, top: p.marginTop + 6,
          fontFamily: FONT, fontSize: 17, lineHeight: '17px', color: INK,
        }}
      >
        {p.tag}
      </div>
    </div>
  )
}

export default function App() {
  return (
    <div style={{ position: 'absolute', left: 0, top: 0, width: 1051, height: 740, background: '#fff', fontFamily: FONT }}>
      <Panel left={0} top={0} width={520} yAxisWidth={98} marginTop={20} marginRight={21}
        values={currentA} valuesMid={currentAMid} yTicks={ticksA} tag="(a)" stability="0.0026%"
        legendLeft={213} legendTop={270} yLabelOffset={17} />
      <Panel left={520} top={0} width={531} yAxisWidth={113} marginTop={20} marginRight={24}
        values={currentB} valuesMid={currentBMid} yTicks={ticksB} tag="(b)" stability="0.0029%"
        legendLeft={226} legendTop={268} yLabelOffset={36} />
      <Panel left={0} top={370} width={520} yAxisWidth={98} marginTop={22} marginRight={21}
        values={currentC} valuesMid={currentCMid} yTicks={ticksC} tag="(c)" stability="0.0038%"
        legendLeft={214} legendTop={275} yLabelOffset={17} />
      <Panel left={520} top={370} width={531} yAxisWidth={113} marginTop={22} marginRight={24}
        values={currentD} valuesMid={currentDMid} yTicks={ticksD} tag="(d)" stability="0.0031%"
        legendLeft={226} legendTop={273} yLabelOffset={36} />
    </div>
  )
}
